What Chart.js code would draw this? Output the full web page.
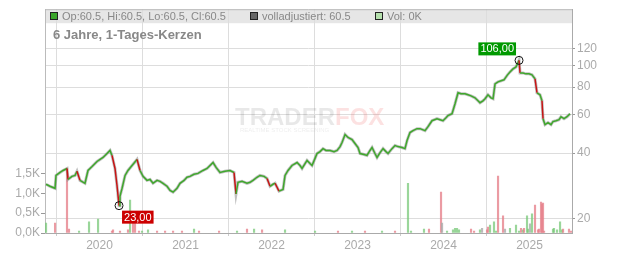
<!DOCTYPE html>
<html>
<head>
<meta charset="utf-8">
<script src="https://cdn.jsdelivr.net/npm/chart.js@4.4.1/dist/chart.umd.min.js"></script>
<style>
  html, body { margin: 0; padding: 0; background: #fff; }
  canvas { display: block; }
</style>
</head>
<body>
<canvas id="chart" width="632" height="253"></canvas>
<script>
// Kursverlauf (Datum als Dezimaljahr, Schlusskurs)
const priceDates = [
  2019.378, 2019.424, 2019.483, 2019.494, 2019.541, 2019.576, 2019.622, 2019.634, 2019.680, 2019.715,
  2019.738, 2019.773, 2019.831, 2019.866, 2019.913, 2019.971, 2020.006, 2020.041, 2020.076, 2020.122,
  2020.145, 2020.180, 2020.203, 2020.227, 2020.238, 2020.262, 2020.297, 2020.331, 2020.378, 2020.436,
  2020.471, 2020.506, 2020.552, 2020.587, 2020.622, 2020.669, 2020.703, 2020.738, 2020.785, 2020.820,
  2020.855, 2020.901, 2020.936, 2020.983, 2021.017, 2021.052, 2021.099, 2021.145, 2021.203, 2021.250,
  2021.285, 2021.320, 2021.355, 2021.401, 2021.459, 2021.517, 2021.564, 2021.587, 2021.610, 2021.657,
  2021.715, 2021.750, 2021.785, 2021.831, 2021.866, 2021.913, 2021.948, 2021.983, 2022.017, 2022.041,
  2022.087, 2022.134, 2022.157, 2022.192, 2022.238, 2022.297, 2022.331, 2022.355, 2022.390, 2022.413,
  2022.448, 2022.471, 2022.506, 2022.529, 2022.564, 2022.599, 2022.634, 2022.680, 2022.727, 2022.762,
  2022.797, 2022.820, 2022.855, 2022.890, 2022.936, 2022.971, 2023.006, 2023.029, 2023.076, 2023.110,
  2023.145, 2023.169, 2023.203, 2023.227, 2023.262, 2023.297, 2023.331, 2023.355, 2023.401, 2023.436,
  2023.471, 2023.517, 2023.552, 2023.576, 2023.610, 2023.645, 2023.692, 2023.727, 2023.785, 2023.820,
  2023.866, 2023.924, 2023.959, 2023.994, 2024.029, 2024.052, 2024.099, 2024.134, 2024.169, 2024.203,
  2024.250, 2024.285, 2024.320, 2024.366, 2024.401, 2024.424, 2024.459, 2024.483, 2024.517, 2024.552,
  2024.576, 2024.599, 2024.634, 2024.669, 2024.703, 2024.744, 2024.773, 2024.808, 2024.843, 2024.878,
  2024.890, 2024.924, 2024.959, 2024.994, 2025.029, 2025.064, 2025.087, 2025.122, 2025.145, 2025.157,
  2025.180, 2025.215, 2025.250, 2025.273, 2025.308, 2025.343, 2025.366, 2025.401, 2025.436, 2025.471
];
const priceClose = [
  28.8, 28.2, 27.6, 31.6, 32.6, 33.3, 34.0, 30.3, 31.3, 31.6,
  33.0, 30.0, 29.1, 33.3, 34.7, 36.6, 37.4, 38.2, 39.4, 41.1,
  39.0, 34.0, 28.5, 23.0, 25.4, 27.6, 31.6, 33.3, 35.1, 37.4,
  33.3, 31.3, 30.0, 30.3, 29.1, 30.0, 29.7, 29.1, 28.2, 27.0,
  26.5, 27.6, 29.1, 30.0, 31.0, 31.3, 32.0, 32.3, 33.3, 34.0,
  35.1, 36.2, 34.4, 32.6, 33.0, 33.3, 32.6, 26.0, 29.4, 29.7,
  29.1, 29.4, 30.0, 31.0, 31.6, 31.3, 30.6, 28.2, 28.8, 29.1,
  26.8, 27.3, 31.6, 33.3, 35.1, 36.2, 35.1, 34.0, 35.8, 37.0,
  35.8, 35.1, 37.8, 39.8, 40.6, 41.9, 41.1, 41.1, 40.6, 41.1,
  42.8, 44.7, 48.6, 47.1, 46.1, 44.2, 42.4, 39.8, 39.4, 39.0,
  41.1, 42.4, 39.8, 38.2, 40.2, 41.9, 40.6, 39.8, 41.9, 43.3,
  42.8, 42.4, 41.9, 45.6, 49.6, 50.6, 51.7, 51.7, 50.6, 52.8,
  56.2, 57.4, 56.8, 56.2, 58.0, 59.3, 60.5, 67.2, 75.4, 74.6,
  74.6, 73.8, 73.0, 71.5, 69.3, 67.9, 69.3, 70.8, 73.8, 71.5,
  70.8, 82.8, 84.6, 85.5, 86.4, 91.0, 93.9, 96.9, 99.0, 106.0,
  92.9, 92.9, 92.0, 92.0, 91.0, 87.3, 75.4, 73.8, 69.3, 57.4,
  53.9, 55.1, 53.9, 55.7, 56.2, 56.8, 58.6, 57.4, 58.6, 60.5
];

// Volumen (in Tausend), u = steigend, d = fallend, n = neutral
const volDates = [
  2019.378, 2019.483, 2019.622, 2019.645, 2019.762, 2019.878, 2019.983, 2020.145, 2020.157, 2020.238,
  2020.331, 2020.355, 2020.390, 2020.413, 2020.459, 2020.494, 2020.564, 2020.669, 2020.762, 2020.855,
  2020.959, 2021.099, 2021.157, 2021.390, 2021.599, 2021.715, 2021.797, 2021.890, 2022.157, 2022.506,
  2022.773, 2022.936, 2023.087, 2023.285, 2023.436, 2023.587, 2023.622, 2023.773, 2023.831, 2023.971,
  2023.983, 2024.041, 2024.110, 2024.134, 2024.157, 2024.180, 2024.320, 2024.355, 2024.424, 2024.448,
  2024.506, 2024.517, 2024.541, 2024.587, 2024.610, 2024.634, 2024.692, 2024.715, 2024.773, 2024.843,
  2024.878, 2024.901, 2024.924, 2024.936, 2024.971, 2024.983, 2025.006, 2025.029, 2025.064, 2025.099,
  2025.110, 2025.134, 2025.145, 2025.157, 2025.169, 2025.273, 2025.285, 2025.320, 2025.355, 2025.378,
  2025.390, 2025.459, 2025.483
];
const volValues = [
  0.25, 0.25, 1.63, 0.10, 0.05, 0.28, 0.35, 0.05, 0.08, 0.05,
  0.08, 0.83, 0.28, 0.25, 0.05, 0.05, 0.08, 0.05, 0.05, 0.05,
  0.05, 0.10, 0.05, 0.05, 0.05, 0.10, 0.10, 0.08, 0.08, 0.05,
  0.05, 0.05, 0.05, 0.05, 0.05, 1.25, 0.05, 0.10, 0.10, 1.03,
  0.25, 0.05, 0.08, 0.12, 0.12, 0.08, 0.10, 0.05, 0.08, 0.12,
  0.08, 0.15, 0.20, 0.28, 0.05, 1.43, 0.43, 0.10, 0.12, 0.20,
  0.05, 0.12, 0.08, 0.12, 0.43, 0.10, 0.23, 0.48, 0.70, 0.08,
  0.10, 0.78, 0.73, 0.75, 0.05, 0.10, 0.12, 0.08, 0.28, 0.08,
  0.10, 0.10, 0.05
];
const volDir = [
  "u", "d", "d", "d", "u", "u", "u", "d", "d", "d",
  "d", "u", "d", "d", "d", "u", "u", "d", "d", "d",
  "d", "u", "d", "d", "u", "d", "u", "d", "u", "u",
  "d", "u", "d", "u", "d", "u", "u", "u", "d", "d",
  "n", "u", "u", "u", "u", "u", "d", "d", "u", "n",
  "d", "d", "u", "u", "u", "d", "d", "n", "u", "u",
  "u", "d", "u", "d", "u", "u", "n", "u", "d", "d",
  "d", "d", "d", "d", "d", "u", "u", "u", "u", "u",
  "d", "d", "d"
];

const yearTicks = [2020, 2021, 2022, 2023, 2024, 2025];
const priceTicks = [20, 40, 60, 80, 100, 120];
const volTicks = [0, 0.5, 1, 1.5];

const FONT = "'Liberation Sans', Arial, sans-serif";
const volColors = { u: "rgba(120,200,120,0.75)", d: "rgba(230,130,140,0.8)", n: "rgba(170,170,170,0.8)" };

// Kopfzeile, Wasserzeichen und Markierungen
const decorPlugin = {
  id: "decor",
  beforeDraw(chart) {
    const { ctx, chartArea: a } = chart;
    ctx.save();
    ctx.fillStyle = "#e6e6e6";
    ctx.fillRect(a.left, a.top, a.right - a.left, 14);
    ctx.restore();
  },
  beforeDatasetsDraw(chart) {
    const { ctx, chartArea: a } = chart;
    ctx.save();
    // Rahmen oben
    ctx.strokeStyle = "#bbb";
    ctx.lineWidth = 1;
    ctx.beginPath();
    ctx.moveTo(a.left, a.top + 0.5);
    ctx.lineTo(a.right, a.top + 0.5);
    ctx.stroke();

    // Wasserzeichen
    ctx.font = "bold 24px " + FONT;
    ctx.textBaseline = "alphabetic";
    ctx.fillStyle = "rgba(0,0,0,0.09)";
    ctx.fillText("TRADER", 235, 125);
    const w = ctx.measureText("TRADER").width;
    ctx.fillStyle = "rgba(235,80,80,0.17)";
    ctx.fillText("FOX", 235 + w, 125);
    ctx.font = "6px " + FONT;
    ctx.fillStyle = "rgba(0,0,0,0.08)";
    ctx.fillText("REALTIME STOCK SCREENING", 240, 132);

    // Legende
    const items = [
      { x: 50, fill: "#3aa52a", text: "Op:60.5, Hi:60.5, Lo:60.5, Cl:60.5" },
      { x: 250, fill: "#666", text: "volladjustiert: 60.5" },
      { x: 375, fill: "#b5e0ad", text: "Vol: 0K" }
    ];
    ctx.font = "11px " + FONT;
    items.forEach((it) => {
      ctx.fillStyle = it.fill;
      ctx.fillRect(it.x, 12, 7, 7);
      ctx.strokeStyle = "#222";
      ctx.strokeRect(it.x + 0.5, 12.5, 7, 7);
      ctx.fillStyle = "#888";
      ctx.fillText(it.text, it.x + 12, 20);
    });

    // Titel
    ctx.font = "bold 13px " + FONT;
    ctx.fillStyle = "#888";
    ctx.fillText("6 Jahre, 1-Tages-Kerzen", 53, 38.5);
    ctx.restore();
  },
  afterDatasetsDraw(chart) {
    const { ctx } = chart;
    const xs = chart.scales.x;
    const ys = chart.scales.yPrice;
    let iMin = 0, iMax = 0;
    priceClose.forEach((v, i) => {
      if (v < priceClose[iMin]) iMin = i;
      if (v > priceClose[iMax]) iMax = i;
    });
    const fmt = (v) => v.toFixed(2).replace(".", ",");
    const mark = (i, color, below) => {
      const cx = xs.getPixelForValue(priceDates[i]);
      const cy = ys.getPixelForValue(priceClose[i]);
      ctx.save();
      ctx.strokeStyle = "#111";
      ctx.lineWidth = 1;
      ctx.beginPath();
      ctx.arc(cx, cy, 4, 0, Math.PI * 2);
      ctx.stroke();
      ctx.font = "11px " + FONT;
      const txt = fmt(priceClose[i]);
      const tw = ctx.measureText(txt).width + 4;
      const bx = below ? cx + 3 : cx - 3 - tw;
      const by = below ? cy + 5 : cy - 5 - 13;
      ctx.fillStyle = color;
      ctx.fillRect(bx, by, tw, 13);
      ctx.fillStyle = "#fff";
      ctx.textBaseline = "middle";
      ctx.fillText(txt, bx + 2, by + 7);
      ctx.restore();
    };
    mark(iMax, "#009900", false);
    mark(iMin, "#cc0000", true);
  }
};

const tickFont = { family: FONT, size: 12 };
const pricePoints = priceDates.map((d, i) => ({ x: d, y: priceClose[i] }));

new Chart(document.getElementById("chart"), {
  type: "bar",
  data: {
    datasets: [
      {
        // Kerzen-Koerper
        type: "line",
        data: pricePoints,
        yAxisID: "yPrice",
        borderColor: "#3fa82c",
        borderWidth: 1.5,
        pointRadius: 0,
        tension: 0,
        order: 0,
        segment: {
          borderColor: (c) => (c.p1.parsed.y < c.p0.parsed.y * 0.93 ? "#c81414" : undefined)
        }
      },
      {
        // Dochte
        type: "line",
        data: pricePoints,
        yAxisID: "yPrice",
        borderColor: "rgba(140,140,140,0.55)",
        borderWidth: 3,
        pointRadius: 0,
        tension: 0,
        order: 1
      },
      {
        type: "bar",
        data: volDates.map((d, i) => ({ x: d, y: volValues[i] })),
        yAxisID: "yVol",
        backgroundColor: volDir.map((d) => volColors[d]),
        barThickness: 1.5,
        grouped: false,
        order: 2
      }
    ]
  },
  options: {
    responsive: false,
    animation: false,
    devicePixelRatio: 1,
    layout: { padding: { top: 8, left: 0, right: 0, bottom: 0 } },
    plugins: { legend: { display: false }, tooltip: { enabled: false } },
    scales: {
      x: {
        type: "linear",
        offset: false,
        min: 2019.366,
        max: 2025.494,
        afterBuildTicks: (s) => { s.ticks = yearTicks.map((v) => ({ value: v })); },
        afterFit: (s) => { s.height = 20; },
        grid: { color: "#ddd", tickLength: 3, tickColor: "#ccc" },
        border: { color: "#aaa" },
        ticks: { font: tickFont, color: "#aaa", padding: 2, maxRotation: 0, callback: (v) => String(v) }
      },
      yPrice: {
        type: "logarithmic",
        position: "right",
        min: 17.25,
        max: 181.6,
        afterBuildTicks: (s) => { s.ticks = priceTicks.map((v) => ({ value: v })); },
        afterFit: (s) => { s.width = 60; },
        grid: { color: "#ddd", tickLength: 3, tickColor: "#999" },
        border: { color: "#aaa" },
        ticks: { font: tickFont, color: "#aaa", padding: 2, callback: (v) => String(v) }
      },
      yVol: {
        type: "linear",
        position: "left",
        min: 0,
        max: 5.625,
        afterBuildTicks: (s) => { s.ticks = volTicks.map((v) => ({ value: v })); },
        afterFit: (s) => { s.width = 45; },
        grid: { drawOnChartArea: false, tickLength: 4, tickColor: "#999" },
        border: { color: "#bbb" },
        ticks: { font: tickFont, color: "#aaa", padding: 1, callback: (v) => v.toFixed(1).replace(".", ",") + "K" }
      }
    }
  },
  plugins: [decorPlugin]
});
</script>
</body>
</html>
